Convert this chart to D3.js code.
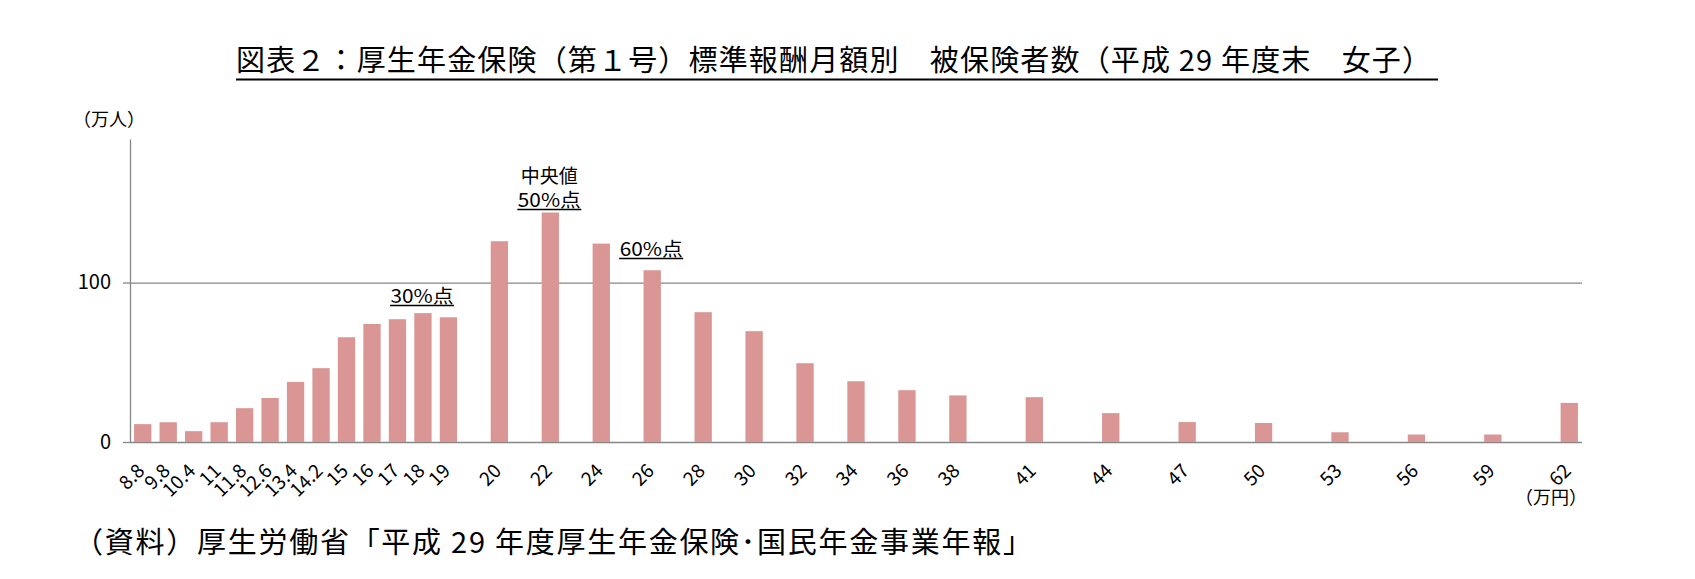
<!DOCTYPE html>
<html>
<head>
<meta charset="UTF-8">
<script src="https://cdn.jsdelivr.net/npm/d3@7"></script>
<style>
  body { margin: 0; background: #fff; }
  text { font-family: "Noto Sans CJK JP", "Noto Sans", sans-serif; fill: #000; }
</style>
</head>
<body>
<div id="chart"></div>
<script>
// 標準報酬月額（万円）。空欄は区切り用の空カテゴリ
const categories = ["8.8","9.8","10.4","11","11.8","12.6","13.4","14.2","15","16","17","18","19",
  "","20","","22","","24","","26","","28","","30","","32","","34","","36","","38",
  "","","41","","","44","","","47","","","50","","","53","","","56","","","59","","","62"];

// 被保険者数（万人）
const values = [11.2,12.4,6.8,12.4,21.2,27.6,37.7,46.3,65.7,74.0,77.0,80.8,78.2,
  null,125.9,null,143.9,null,124.4,null,107.7,null,81.4,null,69.5,null,49.4,null,38.1,null,32.5,null,29.2,
  null,null,28.1,null,null,18.1,null,null,12.5,null,null,11.9,null,null,6.1,null,null,4.7,null,null,4.7,null,null,24.5];

const yTicks = [0, 100];
const yMax = 190;

const notes = [
  { cat: "18", lines: ["30%点"] },
  { cat: "22", lines: ["中央値", "50%点"] },
  { cat: "26", lines: ["60%点"] }
];

const titleText = "図表２：厚生年金保険（第１号）標準報酬月額別　被保険者数（平成 29 年度末　女子）";
const sourceText = "（資料）厚生労働省「平成 29 年度厚生年金保険･国民年金事業年報」";

var width = 1695;
var height = 579;
var plot = { left: 130, right: 1582, top: 139, bottom: 442 };
var grey = "#868686";
var barColor = "#d99694";

var svg = d3.select("#chart").append("svg")
  .attr("width", width)
  .attr("height", height);

svg.append("rect").attr("width", width).attr("height", height).attr("fill", "#fff");

var x = d3.scaleBand()
  .domain(d3.range(categories.length))
  .range([plot.left, plot.right])
  .paddingInner(0.32)
  .paddingOuter(0.16);

var y = d3.scaleLinear()
  .domain([0, yMax])
  .range([plot.bottom, plot.top]);

// gridlines (100 and the 0 baseline)
svg.append("g")
  .attr("transform", `translate(${plot.left},0)`)
  .call(d3.axisLeft(y).tickValues(yTicks).tickSize(-(plot.right - plot.left)).tickFormat(""))
  .call(g => g.select(".domain").remove())
  .call(g => g.selectAll("line").attr("stroke", grey).attr("stroke-width", 1.3));

// y axis
svg.append("g")
  .attr("transform", `translate(${plot.left},0)`)
  .call(d3.axisLeft(y).tickValues(yTicks).tickSize(7).tickSizeOuter(0).tickPadding(12))
  .call(g => g.select(".domain").attr("stroke", grey).attr("stroke-width", 1.3))
  .call(g => g.selectAll("line").attr("stroke", grey).attr("stroke-width", 1.3))
  .call(g => g.selectAll("text")
    .attr("font-family", "Noto Sans CJK JP")
    .attr("font-size", 20)
    .attr("fill", "#000"));

// bars
svg.append("g")
  .selectAll("rect")
  .data(values.map((v, i) => ({ i: i, v: v })).filter(d => d.v != null))
  .enter()
  .append("rect")
  .attr("x", d => x(d.i))
  .attr("y", d => y(d.v))
  .attr("width", x.bandwidth())
  .attr("height", d => y(0) - y(d.v))
  .attr("fill", barColor);

// x labels (rotated)
var labelIdx = d3.range(categories.length).filter(i => categories[i] !== "");
svg.append("g")
  .attr("transform", `translate(0,${plot.bottom})`)
  .call(d3.axisBottom(x).tickValues(labelIdx).tickSize(0).tickFormat(i => categories[i]))
  .call(g => g.select(".domain").remove())
  .call(g => g.selectAll("text")
    .attr("font-family", "Noto Sans CJK JP")
    .attr("font-size", 19)
    .attr("fill", "#000")
    .attr("text-anchor", "end")
    .attr("x", 0).attr("y", 0).attr("dy", null)
    .attr("transform", "translate(3,30) rotate(-45)"));

// unit labels
svg.append("text")
  .attr("x", 73).attr("y", 126)
  .attr("font-size", 18)
  .text("（万人）");

svg.append("text")
  .attr("x", 1587).attr("y", 504)
  .attr("text-anchor", "end")
  .attr("font-size", 18)
  .text("（万円）");

// annotations
var noteY = { "18": [303], "22": [183, 207], "26": [256] };
notes.forEach(n => {
  var cx = x(categories.indexOf(n.cat)) + x.bandwidth() / 2 - 1;
  n.lines.forEach((line, k) => {
    var yy = noteY[n.cat][k];
    var t = svg.append("text")
      .attr("x", cx).attr("y", yy)
      .attr("text-anchor", "middle")
      .attr("font-size", 19)
      .text(line);
    if (line.indexOf("%") >= 0) {
      t.attr("textLength", 63).attr("lengthAdjust", "spacingAndGlyphs");
      svg.append("line")
        .attr("x1", cx - 32).attr("x2", cx + 32)
        .attr("y1", yy + 2.5).attr("y2", yy + 2.5)
        .attr("stroke", "#000").attr("stroke-width", 1.3);
    }
  });
});

// title
svg.append("text")
  .attr("x", 236).attr("y", 71)
  .attr("font-size", 29)
  .attr("textLength", 1195)
  .attr("lengthAdjust", "spacing")
  .text(titleText);

svg.append("line")
  .attr("x1", 236).attr("x2", 1438)
  .attr("y1", 79.5).attr("y2", 79.5)
  .attr("stroke", "#000").attr("stroke-width", 2.2);

// source
svg.append("text")
  .attr("x", 74).attr("y", 553)
  .attr("font-size", 29)
  .attr("textLength", 958)
  .attr("lengthAdjust", "spacing")
  .text(sourceText);
</script>
</body>
</html>
